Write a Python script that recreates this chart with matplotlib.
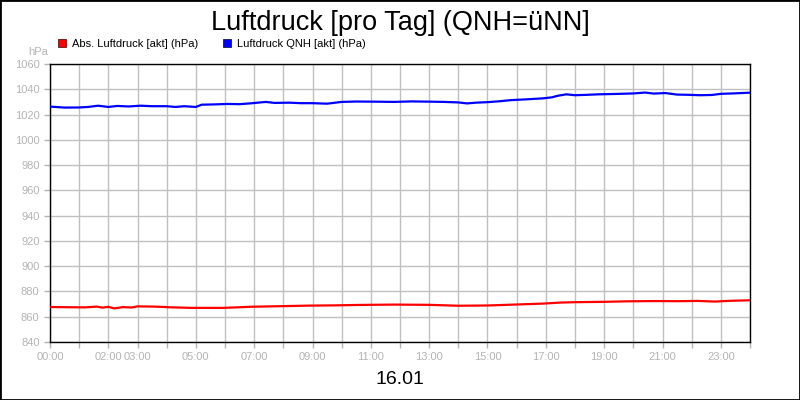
import matplotlib.pyplot as plt
from matplotlib.patches import Patch, Rectangle

# hours of the day and pressure readings (hPa)
qnh_hours = [0, 0.5, 1, 1.3, 1.65, 2, 2.3, 2.7, 3.1, 3.5, 4, 4.3, 4.6, 5, 5.2, 5.6,
             6.1, 6.5, 6.9, 7.4, 7.7, 8.2, 8.6, 9, 9.5, 10, 10.5, 11.1, 11.8, 12.4,
             13, 13.5, 14, 14.3, 14.6, 15, 15.4, 15.8, 16.3, 16.9, 17.2, 17.4, 17.7,
             18, 18.4, 18.8, 19.4, 20, 20.4, 20.7, 21.1, 21.5, 21.9, 22.3, 22.7, 23,
             23.4, 24]
qnh_values = [1026.3, 1025.5, 1025.6, 1026.0, 1027.0, 1026.0, 1026.8, 1026.4, 1027.0,
              1026.6, 1026.6, 1026.0, 1026.6, 1026.0, 1027.8, 1028.0, 1028.4, 1028.2,
              1028.9, 1030.0, 1029.2, 1029.4, 1029.0, 1029.0, 1028.6, 1030.0, 1030.3,
              1030.2, 1030.0, 1030.4, 1030.2, 1030.0, 1029.6, 1028.8, 1029.4, 1029.8,
              1030.5, 1031.4, 1032.0, 1032.8, 1033.6, 1034.8, 1036.0, 1035.3, 1035.6,
              1036.0, 1036.3, 1036.7, 1037.4, 1036.6, 1037.0, 1035.8, 1035.6, 1035.3,
              1035.5, 1036.4, 1036.7, 1037.3]

abs_hours = [0, 0.7, 1.2, 1.6, 1.8, 2.0, 2.2, 2.5, 2.8, 3, 3.6, 4.2, 4.85, 5.5, 5.9,
             6.4, 6.9, 7.8, 8.9, 9.8, 10.5, 11.8, 13, 14, 15, 15.9, 16.9, 17.5, 18,
             19, 19.8, 20.7, 21.5, 22.2, 22.8, 23.3, 24]
abs_values = [867.7, 867.5, 867.4, 868.0, 867.2, 867.8, 866.6, 867.6, 867.3, 868.2,
              868.0, 867.4, 867.0, 867.0, 867.0, 867.4, 867.9, 868.3, 868.8, 869.0,
              869.3, 869.6, 869.4, 868.7, 868.9, 869.6, 870.4, 871.2, 871.5, 871.8,
              872.2, 872.4, 872.3, 872.5, 872.0, 872.6, 873.0]

labelled_hours = [0, 2, 3, 5, 7, 9, 11, 13, 15, 17, 19, 21, 23]
y_ticks = list(range(840, 1061, 20))

grey = '#b4b4b4'
plt.rcParams['font.family'] = ['Liberation Sans', 'DejaVu Sans']

fig = plt.figure(figsize=(8, 4), dpi=100)
ax = fig.add_axes([0.0625, 0.145, 0.875, 0.695])

ax.plot(abs_hours, abs_values, color='#ff0000', lw=1.6, zorder=3)
ax.plot(qnh_hours, qnh_values, color='#0000ff', lw=1.6, zorder=3)

ax.set_xlim(0, 24)
ax.set_ylim(840, 1060)
ax.set_xticks(range(25))
ax.set_xticklabels(['%02d:00' % h if h in labelled_hours else '' for h in range(25)])
ax.set_yticks(y_ticks)
ax.tick_params(colors=grey, labelsize=8, length=4, width=1)
ax.grid(True, color='#c0c0c0', lw=1)
ax.set_axisbelow(True)
for s in ax.spines.values():
    s.set_color('black')
    s.set_linewidth(1)

fig.text(0.5, 0.925, 'Luftdruck [pro Tag] (QNH=üNN]', ha='center', va='baseline',
         fontsize=19.5)
fig.text(0.5, 0.05, '16.01', ha='center', va='center', fontsize=14)
fig.text(0.06, 0.87, 'hPa', ha='right', va='center', fontsize=8, color=grey)

handles = [Patch(facecolor='#ff0000', edgecolor='#400000', lw=0.5),
           Patch(facecolor='#0000ff', edgecolor='#000040', lw=0.5)]
fig.legend(handles, ['Abs. Luftdruck [akt] (hPa)', 'Luftdruck QNH [akt] (hPa)'],
           loc='center left', bbox_to_anchor=(0.073, 0.89), ncol=2, frameon=False,
           fontsize=8, handlelength=0.7, handleheight=0.7, handletextpad=0.55,
           columnspacing=2.2, borderaxespad=0, borderpad=0)

fig.patches.append(Rectangle((0, 0), 1, 1, transform=fig.transFigure, fill=False,
                             edgecolor='black', lw=2))

fig.savefig('out.png', dpi=100)
